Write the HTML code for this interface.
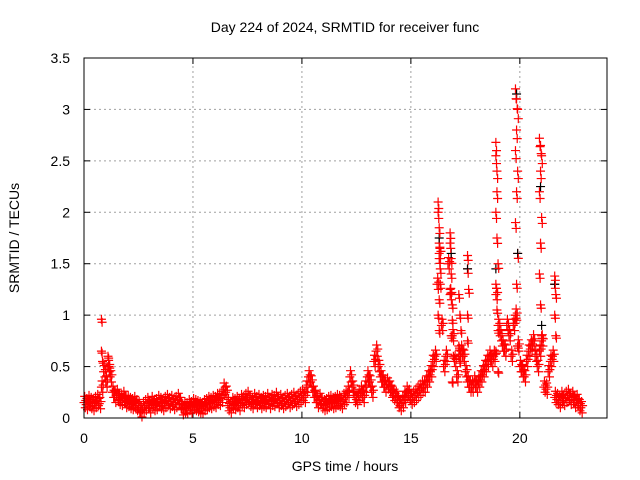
<!DOCTYPE html>
<html><head><meta charset="utf-8"><style>
html,body{margin:0;padding:0;background:#fff;}
svg{display:block;font-family:"Liberation Sans",sans-serif;}
</style></head><body>
<svg id="chart" width="640" height="480" viewBox="0 0 640 480" xmlns="http://www.w3.org/2000/svg">
<text x="345" y="32" font-size="14" text-anchor="middle">Day 224 of 2024, SRMTID for receiver func</text>
<text x="0" y="0" font-size="14" text-anchor="middle" transform="translate(19,238) rotate(-90)">SRMTID / TECUs</text>
<text x="345" y="471" font-size="14" text-anchor="middle">GPS time / hours</text>
<g id="grid"></g>
<g id="ticks"></g>
<g id="marks"></g>
<rect x="84" y="58" width="523" height="360" fill="none" stroke="#000" stroke-width="1"/>
</svg>
<script>
const xTicks=[0,5,10,15,20];
const yTicks=[0,0.5,1,1.5,2,2.5,3,3.5];
const yTickLabels=["0","0.5","1","1.5","2","2.5","3","3.5"];
const baseStart=0, baseStep=0.1;
const baseValues=[0.15,0.13,0.16,0.14,0.12,0.15,0.17,0.14,
0.3,0.45,0.35,0.5,0.4,0.25,
0.2,0.22,0.18,0.17,0.2,0.15,0.16,0.14,0.13,0.15,0.12,0.1,
0.06,0.1,0.12,0.14,0.1,0.15,0.12,0.13,0.16,0.14,0.12,0.15,0.17,0.14,0.16,0.13,0.15,0.18,0.14,
0.08,0.1,0.09,0.12,0.1,0.13,0.12,0.11,0.1,0.09,0.12,
0.13,0.15,0.14,0.16,0.15,0.18,0.17,0.2,0.28,0.25,
0.12,0.1,0.14,0.13,0.15,0.12,0.17,0.15,0.18,0.2,0.16,0.14,0.18,0.15,0.17,
0.14,0.16,0.15,0.18,0.14,0.17,0.16,0.19,0.15,0.17,0.14,0.16,0.18,0.15,0.17,0.19,0.16,0.18,0.2,0.22,0.2,
0.3,0.4,0.35,0.25,0.2,0.15,0.18,0.14,0.12,
0.13,0.15,0.16,0.14,0.15,0.17,0.16,0.14,0.18,0.2,
0.25,0.4,0.3,0.2,0.18,0.22,0.25,0.2,0.3,0.4,
0.35,0.25,0.55,0.65,0.5,0.4,0.35,0.3,0.33,0.3,
0.25,0.22,0.2,0.15,0.12,0.15,0.2,0.25,0.22,0.18,
0.2,0.22,0.25,0.27,0.3,0.3,0.35,0.4,0.45,0.55,
0.6,1.3,1.6,0.9,0.5,0.6,1.5,1.2,0.8,0.55,
0.4,0.6,0.65,0.6,0.45,0.35,0.3,0.3,0.35,0.3,
0.35,0.4,0.45,0.5,0.55,0.6,0.55,0.6,1.2,0.9,
0.8,0.7,0.65,0.9,0.8,0.6,0.9,1.0,0.7,0.5,
0.45,0.4,0.55,0.65,0.7,0.75,0.6,0.5,0.65,0.75,
0.3,0.28,0.45,0.55,0.6,0.2,0.18,0.15,0.2,0.17,
0.2,0.22,0.18,0.2,0.15,0.17,0.12,0.1];
const spikeT=[0.8,0.8,0.85,1.1,1.15,
16.25,16.25,16.3,16.3,16.3,16.35,16.35,16.3,16.25,16.3,
16.8,16.8,16.85,16.85,16.8,16.9,16.9,16.85,16.95,16.9,
17.2,17.25,17.3,17.2,17.25,17.6,17.6,17.65,17.6,17.6,
18.9,18.9,18.95,18.95,18.9,18.95,19.0,18.9,18.95,19.0,18.9,19.0,
19.8,19.85,19.9,19.85,19.8,19.9,19.85,19.8,19.9,19.85,19.8,19.9,
20.9,20.95,21.0,20.95,20.9,21.0,20.95,20.9,20.95,21.0,
21.6,21.6,21.65,21.6,21.65];
const spikeV=[0.96,0.65,0.55,0.6,0.5,
2.1,2.0,1.85,1.7,1.55,1.45,1.3,1.15,1.0,0.85,
1.8,1.7,1.55,1.4,1.25,1.1,0.95,0.8,0.6,0.35,
1.2,1.0,0.85,0.7,0.55,1.58,1.45,1.25,1.0,0.75,
2.68,2.55,2.4,2.2,2.0,1.75,1.5,1.3,1.05,0.85,0.65,0.45,
3.2,3.1,3.0,2.8,2.6,2.4,2.2,1.9,1.6,1.3,1.0,0.7,
2.72,2.65,2.55,2.4,2.2,1.95,1.7,1.4,1.1,0.8,
1.38,1.3,1.2,1.0,0.8];
const blackT=[16.3,16.85,17.6,18.9,19.85,19.9,20.95,21.0,21.6];
const blackV=[1.75,1.6,1.45,1.45,3.15,1.6,2.25,0.9,1.3];

const X0=84,X1=607,Y0=418,Y1=58,XMAX=24,YMAX=3.5;
function xs(t){return X0+(X1-X0)*t/XMAX;}
function ys(v){return Y0-(Y0-Y1)*v/YMAX;}
const NS="http://www.w3.org/2000/svg";
function el(tag,attrs,parent){const e=document.createElementNS(NS,tag);for(const k in attrs)e.setAttribute(k,attrs[k]);parent.appendChild(e);return e;}
const grid=document.getElementById('grid'),ticks=document.getElementById('ticks'),marks=document.getElementById('marks');
xTicks.forEach(t=>{const x=xs(t);
 if(t>0){const g=el('line',{x1:x,y1:Y0,x2:x,y2:Y1,stroke:'#a0a0a0','stroke-dasharray':'2,3'},grid);
 
 }
 el('line',{x1:x,y1:Y0,x2:x,y2:Y0-6,stroke:'#000'},ticks);
 el('line',{x1:x,y1:Y1,x2:x,y2:Y1+6,stroke:'#000'},ticks);
 const lb=el('text',{x:x,y:Y0+25,'font-size':14,'text-anchor':'middle'},ticks);lb.textContent=String(t);
 
 
});
yTicks.forEach((v,i)=>{const y=ys(v);
 if(v>0&&v<YMAX){const g=el('line',{x1:X0,y1:y,x2:X1,y2:y,stroke:'#a0a0a0','stroke-dasharray':'2,3'},grid);
 
 }
 el('line',{x1:X0,y1:y,x2:X0+6,y2:y,stroke:'#000'},ticks);
 el('line',{x1:X1,y1:y,x2:X1-6,y2:y,stroke:'#000'},ticks);
 const lb=el('text',{x:X0-14,y:y+5,'font-size':14,'text-anchor':'end'},ticks);lb.textContent=yTickLabels[i];
 
 
});
function plus(t,v,color,name){const x=xs(t),y=ys(v);
 const p=el('path',{d:`M${x-4.5},${y}h9M${x},${y-4.5}v9`,stroke:color,'stroke-width':1.2,fill:'none'},marks);
 
 
}
baseValues.forEach((v,i)=>{const t=baseStart+i*baseStep;
 plus(t,v,'#ff0000','srmtid-point');
 plus(t+0.03,v+0.06,'#ff0000','srmtid-point');
 plus(t+0.06,v-0.05,'#ff0000','srmtid-point');
 plus(t+0.08,v+0.02,'#ff0000','srmtid-point');
});
spikeT.forEach((t,i)=>plus(t,spikeV[i],'#ff0000','srmtid-spike-point'));
blackT.forEach((t,i)=>plus(t,blackV[i],'#000000','srmtid-secondary-point'));
spikeT.forEach((t,i)=>plus(t+0.03,spikeV[i]*0.97,'#ff0000','srmtid-spike-point'));
</script>
</body></html>
